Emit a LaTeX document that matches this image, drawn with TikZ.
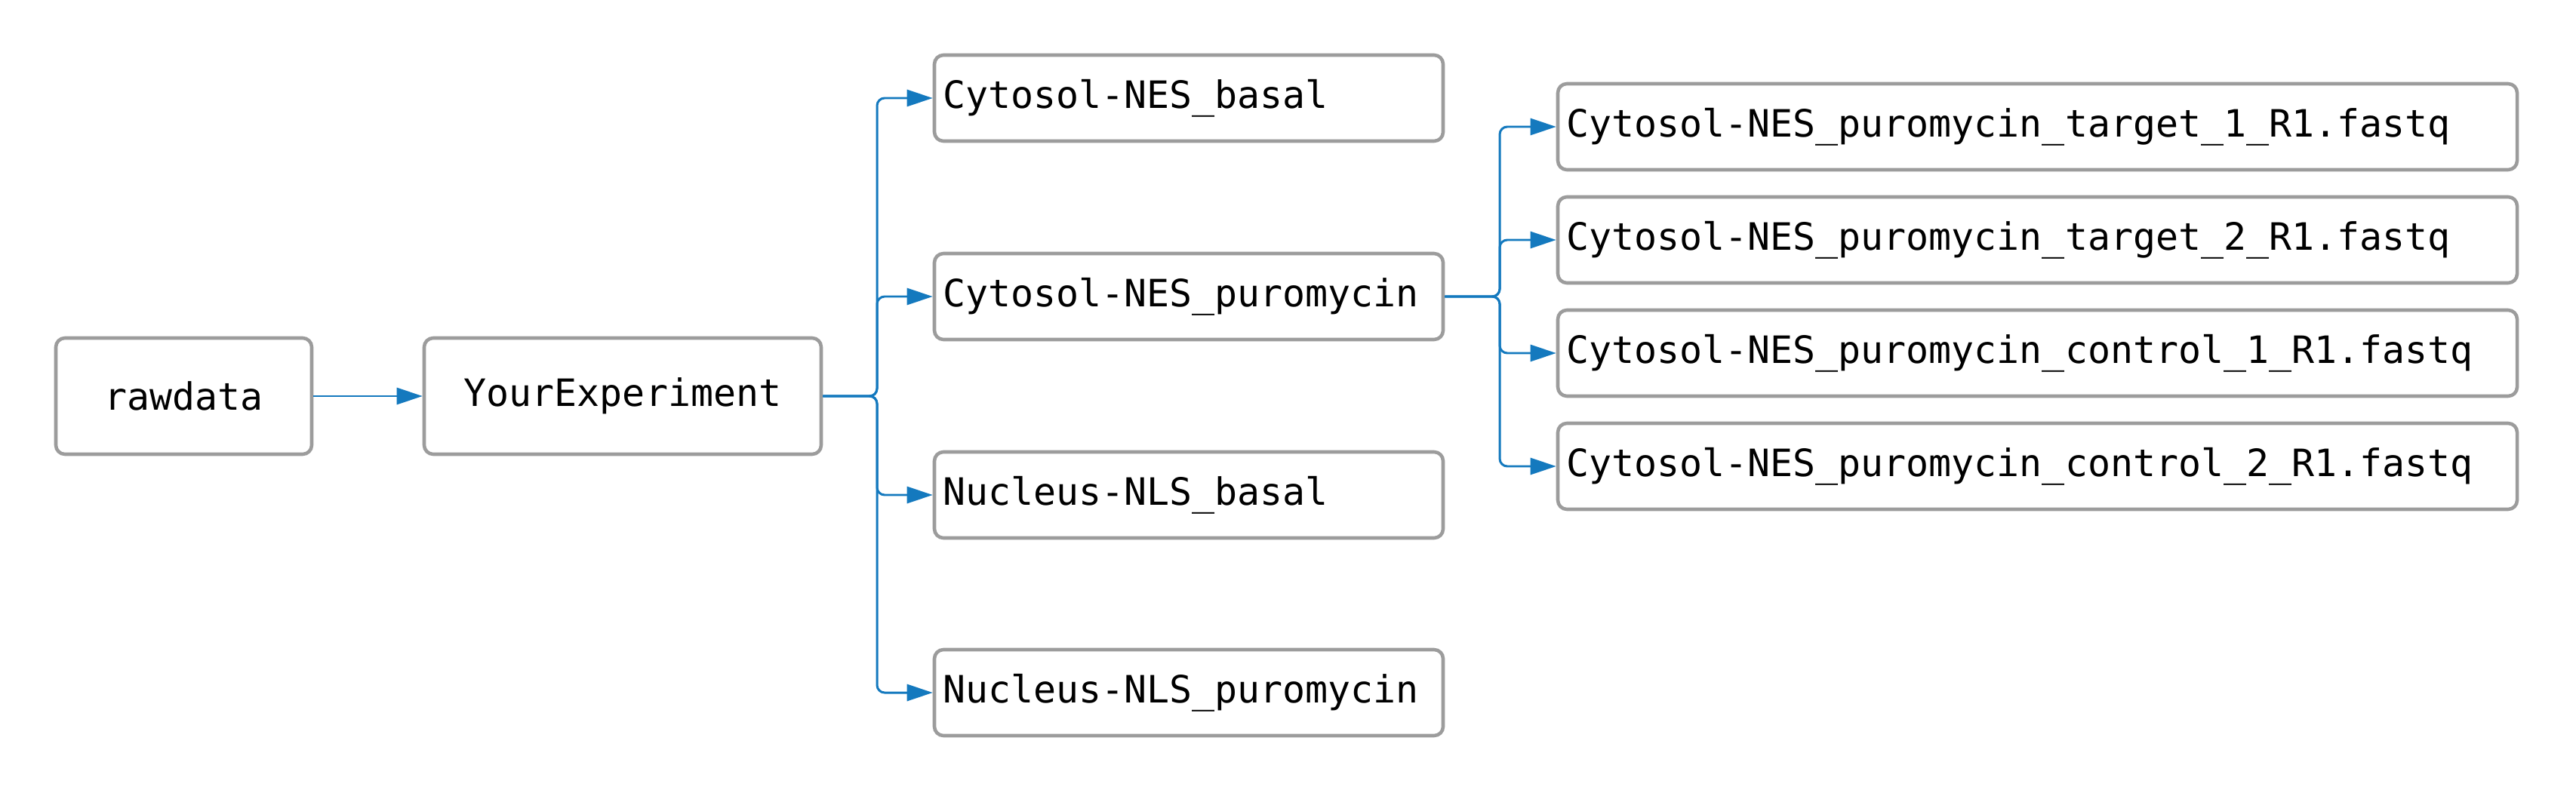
\documentclass[tikz,border=0pt]{standalone}
\usepackage{fontspec}
\setmonofont{DejaVu Sans Mono}
\usepackage{tikz}
\usetikzlibrary{arrows.meta}

\definecolor{linkblue}{HTML}{1479BE}
\definecolor{boxgray}{HTML}{9C9C9C}

\tikzset{
    box/.style={draw=boxgray, line width=1.3pt, rounded corners=0.12cm, fill=white,
        minimum height=1.54cm, font=\ttfamily\fontsize{14.2pt}{17pt}\selectfont},
    leaf/.style={box, minimum height=1.14cm, align=left, inner xsep=0.11cm},
    link/.style={linkblue, line width=0.85pt, rounded corners=0.1cm,
        -{Triangle[length=0.34cm,width=0.22cm]}}
}

\begin{document}
\begin{tikzpicture}
    % Rahmen des Bildes
    \useasboundingbox (0,0) rectangle (34.13,10.5);

    % Erste Ebene
    \node[box, minimum width=3.39cm] (rawdata) at (2.435,5.25) {rawdata};
    \node[box, minimum width=5.26cm] (yourexp) at (8.25,5.25) {YourExperiment};
    \draw[link] (rawdata.east) -- (yourexp.west);

    % Zweite Ebene (Proben)
    \coordinate (split1) at (11.62,5.25);
    \foreach \i/\y/\lab in {1/9.20/Cytosol-NES\_basal, 2/6.57/Cytosol-NES\_puromycin,
                            3/3.94/Nucleus-NLS\_basal, 4/1.32/Nucleus-NLS\_puromycin} {
        \node[leaf, text width=6.52cm] (sample\i) at (15.75,\y) {\lab};
        \draw[link] (yourexp.east) -- (split1) |- (sample\i.west);
    }

    % Dritte Ebene (fastq-Dateien)
    \coordinate (split2) at (19.87,6.57);
    \foreach \i/\y/\lab in {1/8.82/target\_1, 2/7.32/target\_2,
                            3/5.82/control\_1, 4/4.32/control\_2} {
        \node[leaf, text width=12.49cm] (fastq\i) at (26.995,\y) {Cytosol-NES\_puromycin\_\lab\_R1.fastq};
        \draw[link] (sample2.east) -- (split2) |- (fastq\i.west);
    }
\end{tikzpicture}
\end{document}
